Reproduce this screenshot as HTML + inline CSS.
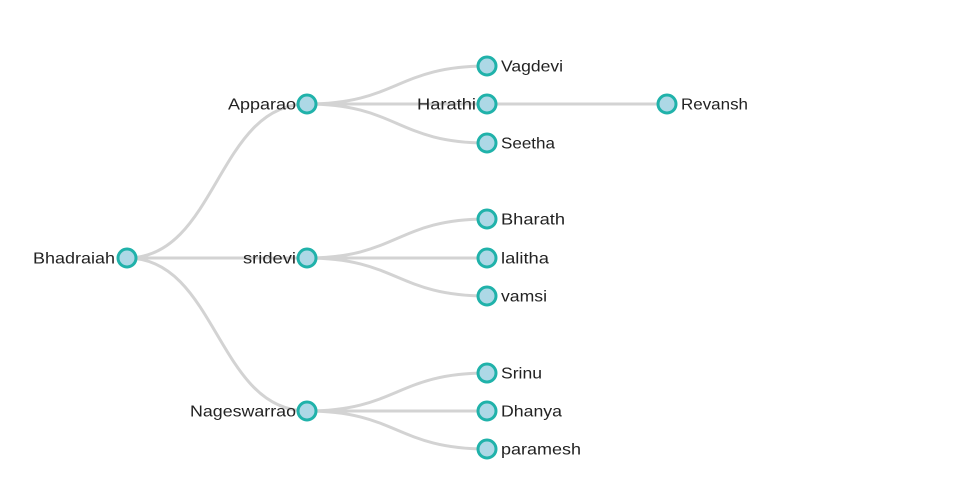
<!DOCTYPE html><html><head><style>body{margin:0;background:#fff}svg{display:block}text{font-family:"Liberation Sans",sans-serif;font-size:16px;fill:#222}</style></head><body>
<svg width="960" height="500" xmlns="http://www.w3.org/2000/svg">
<g fill="none" stroke="#d3d3d3" stroke-width="3">
<path d="M127,258C217,258 217,104 307,104"/>
<path d="M127,258C217,258 217,258 307,258"/>
<path d="M127,258C217,258 217,411 307,411"/>
<path d="M307,104C397,104 397,66 487,66"/>
<path d="M307,104C397,104 397,104 487,104"/>
<path d="M307,104C397,104 397,143 487,143"/>
<path d="M307,258C397,258 397,219 487,219"/>
<path d="M307,258C397,258 397,258 487,258"/>
<path d="M307,258C397,258 397,296 487,296"/>
<path d="M307,411C397,411 397,373 487,373"/>
<path d="M307,411C397,411 397,411 487,411"/>
<path d="M307,411C397,411 397,449 487,449"/>
<path d="M487,104C577,104 577,104 667,104"/>
</g>
<g fill="#add8e6" stroke="#20b2aa" stroke-width="3">
<circle cx="127" cy="258" r="9"/><circle cx="307" cy="104" r="9"/><circle cx="307" cy="258" r="9"/><circle cx="307" cy="411" r="9"/>
<circle cx="487" cy="66" r="9"/><circle cx="487" cy="104" r="9"/><circle cx="487" cy="143" r="9"/>
<circle cx="487" cy="219" r="9"/><circle cx="487" cy="258" r="9"/><circle cx="487" cy="296" r="9"/>
<circle cx="487" cy="373" r="9"/><circle cx="487" cy="411" r="9"/><circle cx="487" cy="449" r="9"/>
<circle cx="667" cy="104" r="9"/>
</g>
<g dominant-baseline="central">
<text x="33" y="259" textLength="82" lengthAdjust="spacingAndGlyphs">Bhadraiah</text>
<text x="228" y="105" textLength="68" lengthAdjust="spacingAndGlyphs">Apparao</text>
<text x="243" y="259" textLength="53" lengthAdjust="spacingAndGlyphs">sridevi</text>
<text x="190" y="412" textLength="106" lengthAdjust="spacingAndGlyphs">Nageswarrao</text>
<text x="417" y="105" textLength="59" lengthAdjust="spacingAndGlyphs">Harathi</text>
<text x="501" y="67" textLength="62" lengthAdjust="spacingAndGlyphs">Vagdevi</text>
<text x="501" y="144" textLength="54" lengthAdjust="spacingAndGlyphs">Seetha</text>
<text x="501" y="220" textLength="64" lengthAdjust="spacingAndGlyphs">Bharath</text>
<text x="501" y="259" textLength="48" lengthAdjust="spacingAndGlyphs">lalitha</text>
<text x="501" y="297" textLength="46" lengthAdjust="spacingAndGlyphs">vamsi</text>
<text x="501" y="374" textLength="41" lengthAdjust="spacingAndGlyphs">Srinu</text>
<text x="501" y="412" textLength="61" lengthAdjust="spacingAndGlyphs">Dhanya</text>
<text x="501" y="450" textLength="80" lengthAdjust="spacingAndGlyphs">paramesh</text>
<text x="681" y="105" textLength="67" lengthAdjust="spacingAndGlyphs">Revansh</text>
</g>
</svg></body></html>
